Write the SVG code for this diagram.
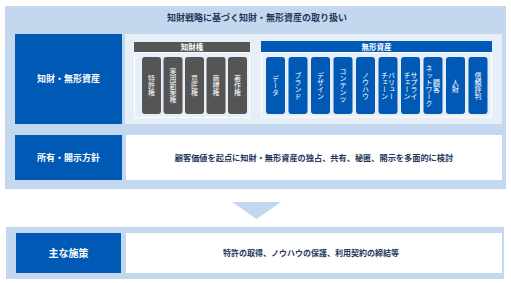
<svg xmlns="http://www.w3.org/2000/svg" width="511" height="283" viewBox="0 0 511 283">
<style>
.panel{fill:#c3d8ee}
.lbl{fill:#005ab5}
.box{fill:#ffffff}
.inner{fill:#e6eef8}
.t{font-family:"Noto Sans CJK JP","Noto Sans",sans-serif;font-weight:bold}
.w{fill:#ffffff}
.n{fill:#24375a}
.gp{fill:#555555}
.bp{fill:#005ab5}
.v{font-family:"Noto Sans CJK JP",sans-serif;font-size:7px;fill:#ffffff;writing-mode:vertical-rl;text-anchor:middle}
.area{fill:none;stroke:#ffffff;stroke-width:1}
</style>
<rect class="panel" x="5" y="6" width="501" height="183"/>
<rect class="panel" x="6" y="227" width="498" height="52"/>
<g id="title"><text class="t n" x="257" y="20.5" font-size="9" text-anchor="middle">知財戦略に基づく知財・無形資産の取り扱い</text></g>
<g id="row1">
<rect class="lbl" x="15" y="34" width="107" height="90"/>
<text class="t w" x="68.5" y="82" font-size="9" text-anchor="middle">知財・無形資産</text>
<rect class="inner" x="125" y="34" width="377" height="90"/>
</g>
<g id="ip-rights">
<rect class="gp" x="134" y="42" width="116" height="10"/>
<text class="t w" x="192" y="50" font-size="7.5" text-anchor="middle" font-weight="normal">知財権</text>
<rect class="area" x="134.5" y="52.5" width="115" height="65"/>
<rect class="gp" x="142" y="57" width="19" height="57" rx="3"/>
<rect class="gp" x="163.5" y="57" width="19" height="57" rx="3"/>
<rect class="gp" x="185" y="57" width="19" height="57" rx="3"/>
<rect class="gp" x="206.5" y="57" width="19" height="57" rx="3"/>
<rect class="gp" x="228" y="57" width="19" height="57" rx="3"/>
<text class="v" x="151.5" y="85.5">特許権</text>
<text class="v" x="173" y="85.5">実用新案権</text>
<text class="v" x="194.5" y="85.5">意匠権</text>
<text class="v" x="216" y="85.5">商標権</text>
<text class="v" x="237.5" y="85.5">著作権</text>
</g>
<g id="intangible">
<rect class="bp" x="261" y="41" width="231" height="11"/>
<text class="t w" x="376.5" y="49.5" font-size="7.5" text-anchor="middle" font-weight="normal">無形資産</text>
<rect class="area" x="261.5" y="52.5" width="230" height="64.5"/>
<rect class="bp" x="266" y="57" width="19" height="57" rx="3"/>
<rect class="bp" x="288.5" y="57" width="19" height="57" rx="3"/>
<rect class="bp" x="311" y="57" width="19" height="57" rx="3"/>
<rect class="bp" x="333.5" y="57" width="19" height="57" rx="3"/>
<rect class="bp" x="356" y="57" width="19" height="57" rx="3"/>
<rect class="bp" x="378.5" y="57" width="19" height="57" rx="3"/>
<rect class="bp" x="401" y="57" width="19" height="57" rx="3"/>
<rect class="bp" x="423.5" y="57" width="19" height="57" rx="3"/>
<rect class="bp" x="446" y="57" width="19" height="57" rx="3"/>
<rect class="bp" x="468.5" y="57" width="19" height="57" rx="3"/>
<text class="v" x="275.5" y="85.5">データ</text>
<text class="v" x="298" y="85.5">ブランド</text>
<text class="v" x="320.5" y="85.5">デザイン</text>
<text class="v" x="343" y="85.5">コンテンツ</text>
<text class="v" x="365.5" y="85.5">ノウハウ</text>
<text class="v" x="391.5" y="85.5">バリュー</text>
<text class="v" x="384.5" y="85.5">チェーン</text>
<text class="v" x="414" y="85.5">サプライ</text>
<text class="v" x="407" y="85.5">チェーン</text>
<text class="v" x="436.5" y="85.5">顧客</text>
<text class="v" x="429" y="85.5">ネットワーク</text>
<text class="v" x="455.5" y="85.5">人財</text>
<text class="v" x="478" y="85.5">信頼評判</text>
</g>
<g id="row2">
<rect class="lbl" x="15" y="135" width="107" height="45"/>
<text class="t w" x="68.5" y="161" font-size="9" text-anchor="middle">所有・開示方針</text>
<rect class="box" x="126" y="135" width="376" height="45"/>
<text class="t n" x="314" y="160.5" font-size="8.2" text-anchor="middle">顧客価値を起点に知財・無形資産の独占、共有、秘匿、開示を多面的に検討</text>
</g>
<g id="connectors">
<polygon class="panel" points="232,202 281,202 256.5,219"/>
</g>
<g id="row3">
<rect class="lbl" x="16" y="233" width="105" height="40"/>
<text class="t w" x="68.5" y="256.5" font-size="10" text-anchor="middle">主な施策</text>
<rect class="box" x="126" y="233" width="376" height="40"/>
<text class="t n" x="311" y="256" font-size="8" text-anchor="middle">特許の取得、ノウハウの保護、利用契約の締結等</text>
</g>
</svg>
